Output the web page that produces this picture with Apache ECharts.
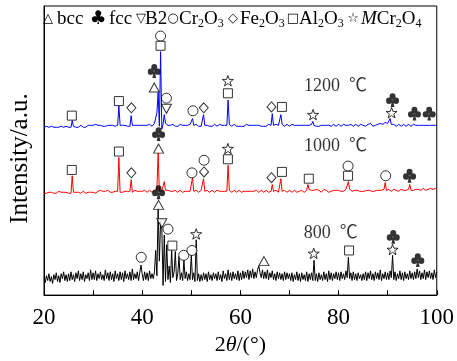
<!DOCTYPE html>
<html><head><meta charset="utf-8">
<script src="https://cdn.jsdelivr.net/npm/echarts@6/dist/echarts.min.js"></script>
<style>html,body{margin:0;padding:0;background:#fff}#c{width:457px;height:361px}</style>
</head><body><div id="c"></div>
<script>
// 2θ sampling grid (degrees)
const thetaStart = 20, thetaStep = 0.25;
const xTickLabels = [20, 40, 60, 80, 100];
const patternNames = ['800  ℃', '1000  ℃', '1200  ℃'];

// Intensities (a.u.), one value per 0.25° from 20° to 100°
const i800 = [
18,13,20,15,22,14,19,12,21,16,23,14,20,13,22,17,24,15,21,14,
22,15,24,16,21,14,23,17,25,15,22,16,24,14,21,17,23,15,26,16,
23,16,25,15,22,17,24,16,21,15,26,17,23,15,24,16,22,14,25,17,
22,15,24,16,23,14,25,17,22,16,24,15,27,16,22,17,24,15,23,31,
22,15,24,16,23,15,25,17,22,17,24,46,20,90,35,76,69,10,62,14,
52,16,30,13,46,18,24,45,15,22,40,16,23,15,36,17,24,15,22,16,
41,16,23,14,57,15,22,14,21,15,23,16,22,14,24,16,21,15,23,17,
22,15,24,16,21,14,25,17,22,15,26,16,23,15,24,17,22,16,25,15,
23,16,25,17,24,18,26,16,25,18,27,17,24,18,26,30,23,18,26,17,
24,17,26,16,23,18,25,16,22,15,24,17,23,16,22,15,24,16,23,17,
22,15,23,14,21,16,24,15,22,14,23,16,21,15,24,14,22,16,23,15,
36,15,22,14,23,16,21,15,24,16,22,14,25,16,23,15,22,17,24,16,
23,15,24,17,22,16,25,18,39,17,23,15,24,16,22,15,23,17,21,15,
22,16,24,15,23,17,25,16,22,15,24,17,23,16,26,15,22,17,24,16,
23,16,25,18,41,16,24,15,22,17,25,16,23,15,24,17,22,16,25,17,
23,16,24,17,27,18,25,16,23,17,26,16,24,18,25,17,23,16,26,18,
24];
const i1000 = [
15,16,15,15,16,15,16,15,15,16,15,16,17,15,16,15,16,15,16,16,
15,16,15,33,16,15,16,15,16,17,15,16,17,16,15,17,16,15,16,17,
16,17,15,16,17,16,18,16,17,16,17,16,18,17,16,17,16,18,17,16,
17,52,16,17,16,18,17,16,17,16,17,29,16,17,18,16,17,16,17,18,
17,16,18,17,16,17,18,17,16,17,18,17,19,57,17,18,17,18,27,18,
17,18,16,17,18,17,16,18,17,16,17,18,17,16,18,17,16,17,18,17,
18,31,17,16,18,17,16,17,18,17,30,17,16,18,17,16,17,18,17,16,
17,18,16,17,18,17,16,17,18,17,44,18,17,16,17,18,17,16,17,18,
17,16,18,17,16,17,18,17,16,17,18,17,16,18,17,16,17,18,17,16,
17,18,17,16,18,17,24,17,16,18,17,16,18,30,17,16,18,17,16,17,
18,17,16,17,18,17,16,18,17,16,18,17,16,17,18,24,19,17,18,17,
18,17,19,17,18,17,16,18,19,17,18,17,16,18,17,19,18,17,18,17,
18,19,17,18,17,18,19,20,27,19,18,17,19,18,17,18,19,17,18,17,
18,17,19,18,17,18,19,17,18,17,19,18,17,18,19,18,17,19,26,18,
17,19,18,17,18,19,17,18,19,17,18,19,17,18,19,18,20,19,24,18,
19,18,20,19,18,19,20,18,19,20,19,18,20,19,18,20,21,19,18,20,
19];
const i1200 = [
15,15,16,15,15,15,16,15,15,15,15,16,15,15,16,15,15,15,16,15,
15,16,15,22,16,15,15,16,15,16,17,16,15,16,15,16,17,16,17,16,
17,16,18,16,17,16,17,18,16,17,16,18,17,16,17,16,17,18,16,17,
17,37,17,16,17,16,17,18,16,17,16,27,17,16,17,16,17,18,17,16,
17,16,17,18,17,16,18,17,16,18,19,18,30,51,16,93,13,18,28,19,
18,17,18,17,16,18,17,16,17,16,17,18,16,17,16,17,18,17,16,18,
17,24,17,16,18,17,16,17,16,17,28,17,16,17,18,16,17,16,17,18,
17,16,17,18,16,17,16,17,18,17,43,18,17,16,17,18,17,16,17,16,
17,16,17,16,17,18,16,17,16,17,18,17,16,17,16,17,18,16,17,16,
17,16,17,18,16,17,29,17,16,18,17,17,16,28,18,17,16,17,18,17,
16,17,18,16,17,16,17,18,17,16,17,18,17,16,17,18,17,16,18,21,
17,18,16,17,16,18,17,16,17,18,17,16,17,18,16,17,18,17,16,17,
18,17,16,17,18,16,17,18,17,16,18,17,16,17,18,17,16,17,18,17,
17,18,16,17,18,17,19,17,16,18,17,16,18,17,19,17,18,19,20,18,
19,21,24,18,17,18,17,16,17,18,17,16,17,18,17,16,17,18,17,16,
17,18,19,17,16,17,18,17,16,17,18,17,16,17,19,17,18,17,16,17,
17];

// Phase markers: [2θ, level (a.u., same scale as pattern), pattern index 0=800,1=1000,2=1200]
const bccMarks  = [[42.46,56,2],[43.34,61,1],[43.34,93,0],[64.8,35,0]];
const fccMarks  = [[42.46,73,2],[91.0,43,2],[95.46,29,2],[98.46,29,2],[43.34,76,1],[94.46,33,1],[43.34,106,0],[91.14,60,0],[96.14,36,0]];
const b2Marks   = [[44.94,34,2],[44.0,74,0]];
const cr2o3Marks= [[43.74,109,2],[44.94,45,2],[50.34,32,2],[50.14,36,1],[52.6,49,1],[81.94,43,1],[89.6,33,1],[39.8,39,0],[45.26,68,0],[48.46,41,0],[50.14,46,0]];
const fe2o3Marks= [[37.8,35,2],[52.54,35,2],[66.34,36,2],[37.8,36,1],[52.6,37,1],[66.34,31,1]];
const al2o3Marks= [[25.66,27,2],[35.26,42,2],[43.74,99,2],[57.46,50,2],[68.46,36,2],[25.66,39,1],[35.26,58,1],[57.46,50,1],[68.46,37,1],[73.94,30,1],[81.94,33,1],[46.14,51,0],[82.14,46,0]];
const mcrMarks  = [[57.46,63,2],[74.8,28,2],[90.8,30,2],[57.46,61,1],[51.0,63,0],[74.94,43,0],[91.0,47,0]];
// Temperature labels: [2θ, level, pattern index]
const tempLabels = [[78.4,64,0],[79.4,63,1],[79.4,57,2]];
// Legend entries: [symbol glyph, label (rich)]
const legendItems = [
  ['△', 'bcc'], ['♣', 'fcc'], ['▽', 'B2'],
  ['○', 'Cr{b|2}O{b|3}'], ['◇', 'Fe{b|2}O{b|3}'], ['□', 'Al{b|2}O{b|3}'], ['☆', '{i|M}Cr{b|2}O{b|4}']
];

// ---- presentation ----
const offsets = [0, 90, 158];
const colors = ['#000000', '#ff0000', '#0000ff'];
const FONT = "'Liberation Serif', 'Times New Roman', serif";
const clubPath = 'path://M28,25 A22,22 0 1,1 72,25 A22,22 0 1,1 28,25 Z M2,55 A22,22 0 1,1 46,55 A22,22 0 1,1 2,55 Z M54,55 A22,22 0 1,1 98,55 A22,22 0 1,1 54,55 Z M50,40 L64,98 L36,98 Z';
const starPath = 'path://M50,0 L61.76,33.82 L97.55,34.55 L69.02,56.18 L79.39,90.45 L50,70 L20.61,90.45 L30.98,56.18 L2.45,34.55 L38.24,33.82 Z';
// legend layout: [symbol centre x, label left x]
const legendPos = [[48, 57], [98, 109], [141, 145], [173, 179], [233, 240], [293, 299], [353, 361]];

const patterns = [i800, i1000, i1200];
const lineSeries = patterns.map((arr, k) => ({
  type: 'line', name: patternNames[k], showSymbol: false, symbol: 'none',
  lineStyle: { color: colors[k], width: 1 }, z: 2,
  data: arr.map((v, i) => [thetaStart + i * thetaStep, v + offsets[k]])
}));

function markSeries(list, symbol, size, opts) {
  return Object.assign({
    type: 'scatter', symbol: symbol, symbolSize: size, z: 5,
    symbolKeepAspect: true,
    itemStyle: { color: '#fff', borderColor: '#000', borderWidth: 1 },
    data: list.map(m => [m[0], m[1] + offsets[m[2]]])
  }, opts || {});
}

const series = lineSeries.concat([
  markSeries(bccMarks, 'triangle', [10, 9]),
  markSeries(b2Marks, 'triangle', [10, 9], { symbolRotate: 180 }),
  markSeries(cr2o3Marks, 'circle', 10),
  markSeries(fe2o3Marks, 'diamond', [9, 10]),
  markSeries(al2o3Marks, 'rect', 9),
  markSeries(mcrMarks, starPath, 11),
  markSeries(fccMarks, clubPath, [13, 14], { itemStyle: { color: '#000', borderWidth: 0 } }),
  {
    type: 'scatter', symbolSize: 0, z: 6,
    data: tempLabels.map(t => ({ value: [t[0], t[1] + offsets[t[2]]], name: patternNames[t[2]] })),
    label: { show: true, position: 'inside', formatter: p => p.name, color: '#000',
      fontSize: 18, fontFamily: FONT + ", 'Noto Sans CJK SC'" }
  }
]);

const legendRich = {
  b: { fontSize: 12, fontFamily: FONT, verticalAlign: 'bottom', lineHeight: 12, fill: '#000' },
  i: { fontSize: 19, fontFamily: FONT, fontStyle: 'italic', fill: '#000' }
};
const graphics = [];
legendItems.forEach((it, n) => {
  const club = it[0] === '♣';
  graphics.push({
    type: 'text', x: legendPos[n][0], y: 19, z: 10,
    style: { text: it[0], fill: '#000', fontSize: club ? 19 : 13, fontFamily: "'DejaVu Sans'",
      align: 'center', verticalAlign: 'middle' }
  });
  graphics.push({
    type: 'text', x: legendPos[n][1], y: 19, z: 10,
    style: { text: it[1], fill: '#000', fontSize: 19, fontFamily: FONT, lineHeight: 22,
      align: 'left', verticalAlign: 'middle', rich: legendRich }
  });
});

const chart = echarts.init(document.getElementById('c'), null, { renderer: 'canvas' });
chart.setOption({
  animation: false,
  backgroundColor: '#fff',
  grid: { left: 41, right: 17, top: 6, bottom: 57, show: true, borderColor: '#000', borderWidth: 1 },
  xAxis: {
    type: 'value', min: 20, max: 100, interval: 10,
    axisLine: { lineStyle: { color: '#000', width: 1 } },
    axisTick: { inside: true, length: 5, lineStyle: { color: '#000' } },
    axisLabel: { color: '#000', fontSize: 23, fontFamily: FONT, margin: 11,
      formatter: v => (xTickLabels.indexOf(v) >= 0 ? String(v) : '') },
    splitLine: { show: false },
    name: '{n|2}{i|θ}{n|/(°)}', nameLocation: 'middle', nameGap: 30,
    nameTextStyle: { rich: {
      n: { fontSize: 22, fontFamily: FONT, color: '#000' },
      i: { fontSize: 22, fontFamily: FONT, fontStyle: 'italic', color: '#000' } } }
  },
  yAxis: {
    type: 'value', min: 0, max: 298,
    axisLine: { show: true, lineStyle: { color: '#000', width: 1 } },
    axisTick: { show: false }, axisLabel: { show: false }, splitLine: { show: false },
    name: 'Intensity/a.u.', nameLocation: 'middle', nameGap: 11, nameRotate: 90,
    nameTextStyle: { fontSize: 25, fontFamily: FONT, color: '#000', padding: [0, 16, 0, 0] }
  },
  graphic: graphics,
  series: series
});
</script>
</body></html>
